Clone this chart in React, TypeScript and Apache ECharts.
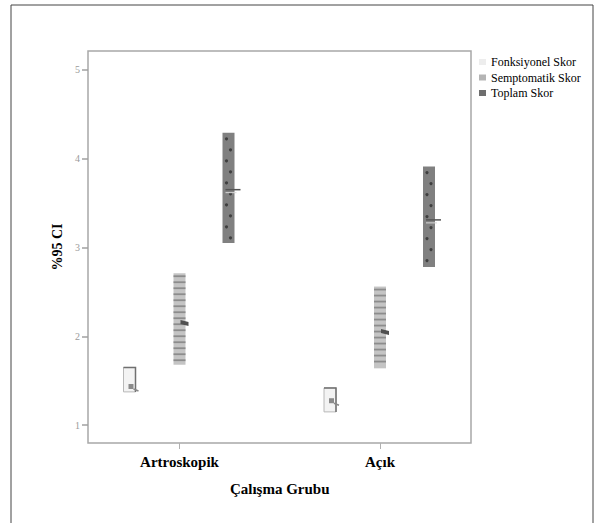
import React, { useEffect, useRef } from "react";
import * as echarts from "echarts";

const categories = ["Artroskopik", "Açık"];
const seriesNames = ["Fonksiyonel Skor", "Semptomatik Skor", "Toplam Skor"];
const fonksiyonelLow = [1.375, 1.15];
const fonksiyonelHigh = [1.65, 1.42];
const fonksiyonelMean = [1.43, 1.27];
const semptomatikLow = [1.68, 1.64];
const semptomatikHigh = [2.71, 2.56];
const semptomatikMean = [2.15, 2.05];
const toplamLow = [3.05, 2.78];
const toplamHigh = [4.29, 3.91];
const toplamMean = [3.65, 3.31];
const yTicks = [1, 2, 3, 4, 5];

const SERIF = "'Liberation Serif', 'DejaVu Serif', serif";

function buildData(lo: number[], hi: number[], mean: number[]) {
  return categories.map((_, i) => [i, lo[i], hi[i], mean[i]]);
}

function makeRender(kind: number, offset: number) {
  return (params: any, api: any) => {
    const cat = api.value(0);
    const pLo = api.coord([cat, api.value(1)]);
    const pHi = api.coord([cat, api.value(2)]);
    const pM = api.coord([cat, api.value(3)]);
    const cx = pLo[0] + offset;
    const w = 12;
    const x0 = cx - w / 2;
    const top = pHi[1];
    const bot = pLo[1];
    const h = bot - top;
    const children: any[] = [];
    if (kind === 0) {
      children.push({
        type: "rect",
        shape: { x: x0, y: top, width: w, height: h },
        style: { fill: "#f3f3f3", stroke: "#b8b8b8", lineWidth: 1 },
      });
      children.push({
        type: "polyline",
        shape: { points: [[x0, top], [x0 + w, top], [x0 + w, bot]] },
        style: { stroke: "#707070", lineWidth: 1.5, fill: null },
      });
      children.push({
        type: "rect",
        shape: { x: cx - 1, y: pM[1] - 3, width: 5, height: 5 },
        style: { fill: "#8a8a8a" },
      });
      children.push({
        type: "line",
        shape: { x1: cx + 4, y1: pM[1] + 2, x2: cx + 9, y2: pM[1] + 4 },
        style: { stroke: "#888", lineWidth: 1.5 },
      });
    } else if (kind === 1) {
      children.push({
        type: "rect",
        shape: { x: x0, y: top, width: w, height: h },
        style: { fill: "#c4c4c4" },
      });
      for (let y = top + 3; y < bot - 1; y += 6) {
        children.push({
          type: "line",
          shape: { x1: x0, y1: y, x2: x0 + w, y2: y },
          style: { stroke: "#8c8c8c", lineWidth: 1.8 },
        });
      }
      children.push({
        type: "polygon",
        shape: { points: [[cx + 1, pM[1] - 3], [cx + 9, pM[1] - 1], [cx + 9, pM[1] + 3], [cx + 1, pM[1] + 1]] },
        style: { fill: "#505050" },
      });
    } else {
      children.push({
        type: "rect",
        shape: { x: x0, y: top, width: w, height: h },
        style: { fill: "#808080" },
      });
      let alt = 0;
      for (let y = top + 6; y < bot - 3; y += 11) {
        children.push({
          type: "circle",
          shape: { cx: alt % 2 === 0 ? cx - 2 : cx + 2, cy: y, r: 1.6 },
          style: { fill: "#3f3f3f" },
        });
        alt++;
      }
      children.push({
        type: "line",
        shape: { x1: cx - 3, y1: pM[1], x2: cx + 12, y2: pM[1] },
        style: { stroke: "#555", lineWidth: 1.5 },
      });
      children.push({
        type: "line",
        shape: { x1: cx - 3, y1: pM[1] + 3, x2: cx + 8, y2: pM[1] + 3 },
        style: { stroke: "#d8d8d8", lineWidth: 1 },
      });
    }
    return { type: "group", children };
  };
}

export default function App() {
  const ref = useRef<HTMLDivElement>(null);
  useEffect(() => {
    if (!ref.current) return;
    const chart = echarts.init(ref.current, null, { renderer: "svg" });
    const yMin = 0.8;
    const yMax = 5.21;
    const colors = ["#ededed", "#b4b4b4", "#6e6e6e"];
    const option: any = {
      animation: false,
      backgroundColor: "#ffffff",
      graphic: [
        {
          type: "rect",
          shape: { x: 11, y: 5, width: 582, height: 530 },
          style: { fill: null, stroke: "#444", lineWidth: 1 },
          silent: true,
        },
      ],
      legend: {
        orient: "vertical",
        left: 474,
        top: 50,
        itemWidth: 7,
        itemHeight: 6,
        itemGap: 1.5,
        icon: "rect",
        textStyle: { fontFamily: SERIF, fontSize: 12, color: "#000", lineHeight: 14 },
        data: seriesNames.map((n, i) => ({ name: n, itemStyle: { color: colors[i] } })),
      },
      grid: [
        {
          left: 88,
          top: 51,
          width: 383,
          height: 392,
          show: true,
          borderColor: "#a8a8a8",
          borderWidth: 1.5,
          backgroundColor: "transparent",
        },
        { left: 79.25, top: 51, width: 401, height: 392 },
      ],
      xAxis: [
        {
          gridIndex: 0,
          type: "value",
          min: 0,
          max: 1,
          axisLine: { show: false },
          axisTick: { show: false },
          axisLabel: { show: false },
          splitLine: { show: false },
        },
        {
          gridIndex: 1,
          type: "category",
          data: categories,
          boundaryGap: true,
          axisLine: { show: false },
          axisTick: { show: true, alignWithLabel: true, length: 6, lineStyle: { color: "#b0b0b0" } },
          axisLabel: {
            margin: 11,
            fontFamily: SERIF,
            fontSize: 15,
            fontWeight: "bold",
            color: "#000",
          },
          name: "Çalışma Grubu",
          nameLocation: "middle",
          nameGap: 38,
          nameTextStyle: { fontFamily: SERIF, fontSize: 15, fontWeight: "bold", color: "#000" },
        },
      ],
      yAxis: [
        {
          gridIndex: 0,
          type: "value",
          min: yMin,
          max: yMax,
          axisLine: { show: false },
          axisTick: {
            show: true,
            length: 6,
            customValues: yTicks,
            lineStyle: { color: "#a0a0a0", width: 1.5 },
          },
          axisLabel: {
            customValues: yTicks,
            margin: 8,
            fontFamily: SERIF,
            fontSize: 10,
            color: "#9a9a9a",
          },
          splitLine: { show: false },
          name: "%95 CI",
          nameLocation: "middle",
          nameGap: 22,
          nameRotate: 90,
          nameTextStyle: { fontFamily: SERIF, fontSize: 14, fontWeight: "bold", color: "#000" },
        },
        {
          gridIndex: 1,
          type: "value",
          min: yMin,
          max: yMax,
          show: false,
          splitLine: { show: false },
        },
      ],
      series: [
        {
          name: seriesNames[0],
          type: "custom",
          xAxisIndex: 1,
          yAxisIndex: 1,
          itemStyle: { color: colors[0] },
          renderItem: makeRender(0, -50),
          encode: { x: 0, y: [1, 2, 3] },
          data: buildData(fonksiyonelLow, fonksiyonelHigh, fonksiyonelMean),
        },
        {
          name: seriesNames[1],
          type: "custom",
          xAxisIndex: 1,
          yAxisIndex: 1,
          itemStyle: { color: colors[1] },
          renderItem: makeRender(1, 0),
          encode: { x: 0, y: [1, 2, 3] },
          data: buildData(semptomatikLow, semptomatikHigh, semptomatikMean),
        },
        {
          name: seriesNames[2],
          type: "custom",
          xAxisIndex: 1,
          yAxisIndex: 1,
          itemStyle: { color: colors[2] },
          renderItem: makeRender(2, 49),
          encode: { x: 0, y: [1, 2, 3] },
          data: buildData(toplamLow, toplamHigh, toplamMean),
        },
      ],
    };
    chart.setOption(option);
    return () => chart.dispose();
  }, []);
  return (
    <div
      ref={ref}
      style={{ position: "fixed", left: 0, top: 0, width: 595, height: 523, background: "#fff" }}
    />
  );
}
